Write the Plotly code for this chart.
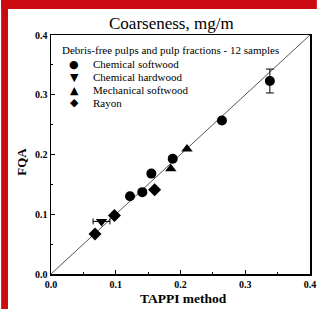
import plotly.graph_objects as go

# ---- data ----
cs_x = [0.338, 0.264, 0.188, 0.155, 0.141, 0.122]
cs_y = [0.323, 0.257, 0.193, 0.168, 0.137, 0.130]
cs_err_y = [0.020, 0, 0, 0, 0, 0]

ch_x = [0.078]
ch_y = [0.088]
ch_err_x = [0.013]

ms_x = [0.210, 0.185]
ms_y = [0.209, 0.176]

ry_x = [0.160, 0.098, 0.068]
ry_y = [0.141, 0.098, 0.067]

line_x = [0.0, 0.4]
line_y = [0.0, 0.4]

series_names = ["Chemical softwood", "Chemical hardwood", "Mechanical softwood", "Rayon"]
legend_symbols = ["\u25CF", "\u25BC", "\u25B2", "\u25C6"]
legend_title = "Debris-free pulps and pulp fractions - 12 samples"
tick_vals = [0.0, 0.1, 0.2, 0.3, 0.4]
tick_text = ["0.0", "0.1", "0.2", "0.3", "0.4"]

W, H = 323, 309
ML, MR, MT, MB = 51, 7, 35, 35
PW = W - ML - MR
PH = H - MT - MB

def px(x):
    return (x - ML) / PW

def py(y):
    return (H - MB - y) / PH

SERIF = "Liberation Serif"
MSIZE = 10

fig = go.Figure()
fig.add_trace(go.Scatter(x=line_x, y=line_y, mode="lines",
                         line=dict(color="#555555", width=1), showlegend=False, hoverinfo="skip"))
fig.add_trace(go.Scatter(x=cs_x, y=cs_y, mode="markers", name=series_names[0],
                         marker=dict(symbol="circle", size=MSIZE, color="black"),
                         error_y=dict(type="data", array=cs_err_y, color="black", thickness=1, width=4),
                         showlegend=False))
fig.add_trace(go.Scatter(x=ch_x, y=ch_y, mode="markers", name=series_names[1],
                         marker=dict(symbol="triangle-down", size=MSIZE, color="black"),
                         error_x=dict(type="data", array=ch_err_x, color="black", thickness=1, width=3),
                         showlegend=False))
fig.add_trace(go.Scatter(x=ms_x, y=ms_y, mode="markers", name=series_names[2],
                         marker=dict(symbol="triangle-up", size=MSIZE, color="black"),
                         showlegend=False))
fig.add_trace(go.Scatter(x=ry_x, y=ry_y, mode="markers", name=series_names[3],
                         marker=dict(symbol="diamond", size=MSIZE, color="black"),
                         showlegend=False))

annotations = [
    dict(text="Coarseness, mg/m", x=px(174), y=py(23), xref="paper", yref="paper",
         showarrow=False, font=dict(family=SERIF, size=17, color="black"), xanchor="center", yanchor="middle"),
    dict(text="<b>FQA</b>", x=px(20), y=py(162), xref="paper", yref="paper", textangle=-90,
         showarrow=False, font=dict(family=SERIF, size=13, color="black"), xanchor="center", yanchor="middle"),
    dict(text="<b>TAPPI method</b>", x=px(187), y=py(298), xref="paper", yref="paper",
         showarrow=False, font=dict(family=SERIF, size=13.5, color="black"), xanchor="center", yanchor="middle"),
    dict(text=legend_title, x=px(60), y=py(50), xref="paper", yref="paper",
         showarrow=False, font=dict(family=SERIF, size=11, color="black"), xanchor="left", yanchor="middle"),
]
entry_y = [64, 77, 90, 103]
for name, sym, ey in zip(series_names, legend_symbols, entry_y):
    annotations.append(dict(text=sym, x=px(75), y=py(ey), xref="paper", yref="paper", showarrow=False,
                            font=dict(family="DejaVu Sans", size=11, color="black"),
                            xanchor="center", yanchor="middle"))
    annotations.append(dict(text=name, x=px(92), y=py(ey), xref="paper", yref="paper", showarrow=False,
                            font=dict(family=SERIF, size=11, color="black"),
                            xanchor="left", yanchor="middle"))

shapes = [
    dict(type="rect", xref="paper", yref="paper", x0=px(0), x1=px(7), y0=py(H), y1=py(0),
         fillcolor="#cc0a12", line=dict(width=0), layer="above"),
    dict(type="rect", xref="paper", yref="paper", x0=px(0), x1=px(W), y0=py(9), y1=py(0),
         fillcolor="#cc0a12", line=dict(width=0), layer="above"),
]

axis_common = dict(
    range=[0, 0.4], tickvals=tick_vals, ticktext=["<b>%s</b>" % t for t in tick_text],
    ticks="inside", ticklen=4, tickwidth=1, tickcolor="black",
    minor=dict(dtick=0.05, ticks="inside", ticklen=2, tickcolor="black", tickwidth=1),
    showline=True, linecolor="black", linewidth=1.5, mirror=True,
    showgrid=False, zeroline=False,
    tickfont=dict(family=SERIF, size=10, color="black"),
)

fig.update_layout(
    width=W, height=H,
    margin=dict(l=ML, r=MR, t=MT, b=MB),
    paper_bgcolor="white", plot_bgcolor="white",
    font=dict(family=SERIF),
    xaxis=dict(**axis_common),
    yaxis=dict(**axis_common),
    annotations=annotations,
    shapes=shapes,
    showlegend=False,
)

fig.write_html("out.html",
               config={"displayModeBar": False, "staticPlot": True},
               post_script="document.documentElement.style.margin='0';document.documentElement.style.overflow='hidden';"
                           "document.body.style.margin='0';document.body.style.padding='0';"
                           "document.body.style.overflow='hidden';document.body.style.background='white';")
